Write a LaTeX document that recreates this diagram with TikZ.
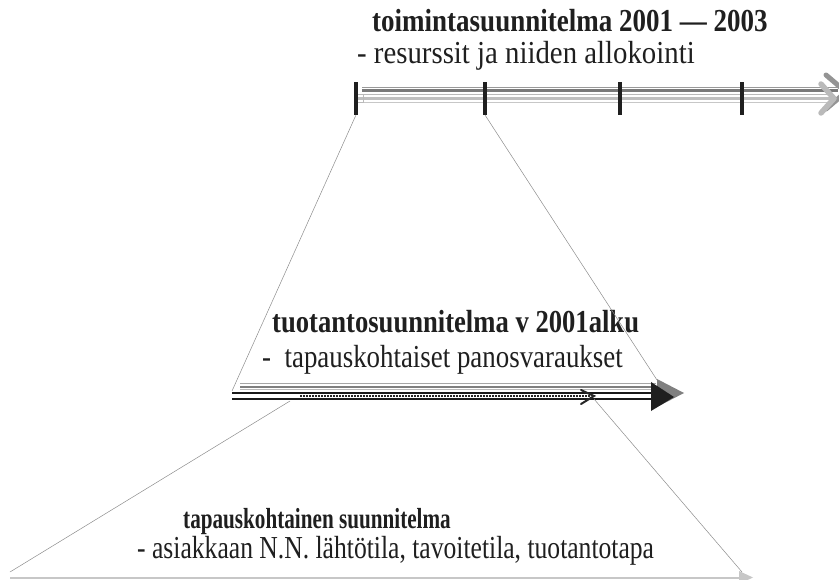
\documentclass[tikz,border=0pt]{standalone}
\usepackage{graphicx}
\usepackage{fontspec}
\setmainfont{Liberation Serif}
% narrow set of a text line: \narrow{factor}{text}
\newcommand{\narrow}[2]{\scalebox{#1}[1]{#2}}
\begin{document}
\begin{tikzpicture}[x=1pt,y=-1pt,
  title/.style={anchor=base west,inner sep=0pt,text=black!88,font=\fontsize{32}{34}\selectfont\bfseries},
  sub/.style={anchor=base west,inner sep=0pt,text=black!88,font=\fontsize{32}{34}\selectfont},
  zoomline/.style={draw=black!45,line width=0.5pt},
  tickmark/.style={fill=black!88,draw=none}]
\useasboundingbox (0,0) rectangle (839,580);
\clip (0,0) rectangle (839,580);

% ---------- texts ----------
\node[title] (t1) at (372,32) {\narrow{0.844}{toimintasuunnitelma 2001 — 2003}};
\node[sub,font=\fontsize{32}{34}\selectfont] (s1) at (357,64) {\narrow{0.90}{- resurssit ja niiden allokointi}};
\node[title] (t2) at (272,333) {\narrow{0.832}{tuotantosuunnitelma v 2001alku}};
\node[sub] (s2) at (262,368) {\narrow{0.84}{-\ \ tapauskohtaiset panosvaraukset}};
\node[title,font=\fontsize{29}{31}\selectfont\bfseries] (t3) at (183,528) {\narrow{0.73}{tapauskohtainen suunnitelma}};
\node[sub] (s3) at (137,558) {\narrow{0.80}{- asiakkaan N.N. lähtötila, tavoitetila, tuotantotapa}};

% ---------- top time line ----------
\coordinate (a1s) at (362,88);  \coordinate (a1e) at (838,88);
\coordinate (a2s) at (362,91);  \coordinate (a2e) at (838,91);
\coordinate (b1s) at (357,94.5);\coordinate (b1e) at (830,94.5);
\coordinate (b2s) at (357,98.5);\coordinate (b2e) at (830,98.5);
\coordinate (b3s) at (357,102.5);\coordinate (b3e) at (830,102.5);
\draw[black!40,line width=1pt] (a1s) -- (a1e);
\draw[black!52,line width=3pt] (a2s) -- (a2e);
\draw[black!42,line width=5pt,line cap=round,line join=round] (826,75) -- (846,92) -- (826,109);
\draw[black!27,line width=1.5pt] (b1s) -- (b1e);
\draw[black!25,line width=3pt] (b2s) -- (b2e);
\draw[black!22,line width=1pt] (b3s) -- (b3e);
\draw[black!27,line width=5.5pt,line cap=round,line join=round] (821,84) -- (834,98.5) -- (821,113);
\draw[black!27,line width=1pt] (357,94.5) -- (363,94.5) -- (363,102.5) -- (357,102.5);

\foreach \n/\x in {k1/356,k2/485,k3/620,k4/742}{
  \fill[tickmark] (\x-2,82) rectangle (\x+2,115);
  \coordinate (\n) at (\x,115);
}

% ---------- middle time line ----------
\draw[black!35,line width=1pt] (240,384) -- (656,384);
\draw[black!50,line width=2.5pt] (240,387) -- (656,387);
\draw[black!28,line width=1pt] (240,390) -- (656,390);
\fill[black!50] (657,379) -- (684,393) -- (657,407) -- cycle;
\draw[black!90,line width=2.5pt] (232,393) -- (656,393);
\draw[black!90,line width=2.5pt] (232,399) -- (656,399);
\draw[black!85,line width=1.2pt,dash pattern=on 1.5pt off 1.5pt] (300,396) -- (590,396);
\draw[black!85,line width=2pt,line cap=round] (581,390) -- (594,396) -- (581,404);
\fill[black!88] (651,382) -- (674,397) -- (651,411) -- cycle;
\coordinate (m1) at (232,391);
\coordinate (m2) at (657,380);
\coordinate (m3) at (290,401);
\coordinate (m4) at (594,399);

% ---------- bottom time line ----------
\draw[black!22,line width=2pt] (10,577.5) -- (742,577.5);
\fill[black!22] (739,571) -- (753,577.5) -- (739,584) -- cycle;
\coordinate (c1) at (10,572);
\coordinate (c2) at (742,572);

% ---------- zoom guides ----------
\draw[zoomline] (k1) -- (m1);
\draw[zoomline] (k2) -- (m2);
\draw[zoomline] (m3) -- (c1);
\draw[zoomline] (m4) -- (c2);
\end{tikzpicture}
\end{document}
